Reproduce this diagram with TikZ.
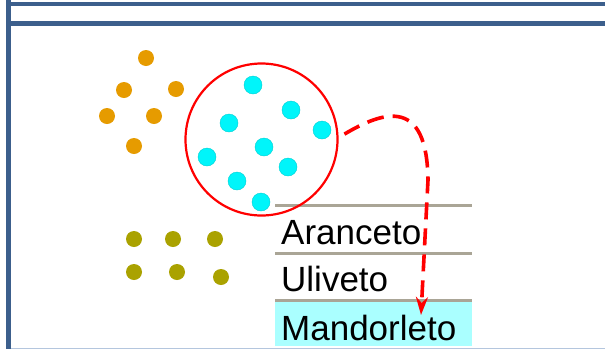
\documentclass[tikz,border=0pt]{standalone}
\usepackage{fontspec}
\setmainfont{Liberation Sans}
\usetikzlibrary{arrows.meta}
\definecolor{framebl}{RGB}{60,95,140}
\definecolor{framelt}{RGB}{180,198,222}
\definecolor{dotor}{RGB}{230,155,0}
\definecolor{dotol}{RGB}{170,162,0}
\definecolor{dotcy}{RGB}{0,245,250}
\definecolor{rulegr}{RGB}{170,165,150}
\definecolor{selcy}{RGB}{170,255,255}
\tikzset{
  ordot/.style={circle,fill=dotor,inner sep=0pt,minimum size=16pt},
  oldot/.style={circle,fill=dotol,inner sep=0pt,minimum size=16pt},
  cydot/.style={circle,fill=dotcy,draw=dotcy!85!black,line width=0.4pt,inner sep=0pt,minimum size=18pt},
  item/.style={anchor=base west,inner sep=0pt,font=\fontsize{35}{37}\selectfont},
  rulegray/.style={draw=rulegr,line width=3pt},
}
\begin{document}
\begin{tikzpicture}[x=1pt,y=-1pt]
\useasboundingbox[fill=white] (0,0) rectangle (605,349);
% frame
\fill[framebl] (6,0) rectangle (11,349);
\fill[framebl] (6,2) rectangle (605,6);
\fill[framebl] (6,21) rectangle (605,26);
\draw[framelt,line width=1.2pt] (11,348.3) -- (605,348.3);
% orange dots
\node[ordot] (o1) at (146,58) {};
\node[ordot] (o2) at (124,90) {};
\node[ordot] (o3) at (176,89) {};
\node[ordot] (o4) at (107,116) {};
\node[ordot] (o5) at (154,116) {};
\node[ordot] (o6) at (134,146) {};
% olive dots
\node[oldot] (g1) at (134,239) {};
\node[oldot] (g2) at (173,239) {};
\node[oldot] (g3) at (215,239) {};
\node[oldot] (g4) at (134,272) {};
\node[oldot] (g5) at (177,272) {};
\node[oldot] (g6) at (221,277) {};
% list
\fill[selcy] (275,302) rectangle (472,346);
\draw[rulegray] (275,205.5) -- (472,205.5);
\draw[rulegray] (275,253) -- (472,253);
\draw[rulegray] (275,300.5) -- (472,300.5);
\node[item] (ara) at (281,244) {Aranceto};
\node[item] (uli) at (281,291) {Uliveto};
\node[item] (man) at (281,340) {Mandorleto};
% cyan dots
\node[cydot] (c1) at (253,85) {};
\node[cydot] (c2) at (291,110) {};
\node[cydot] (c3) at (229,123) {};
\node[cydot] (c4) at (322,130) {};
\node[cydot] (c5) at (264,147) {};
\node[cydot] (c6) at (207,157) {};
\node[cydot] (c7) at (288,167) {};
\node[cydot] (c8) at (237,181) {};
\node[cydot] (c9) at (261,202) {};
% selection circle
\node[circle,draw=red,line width=2.2pt,minimum size=152pt,inner sep=0pt] (circ) at (261.5,139.5) {};
% arrow
\coordinate (tip) at (421,315);
\draw[red,line width=3.6pt,dash pattern=on 17pt off 9pt,-{Stealth[length=18pt,width=12pt]}]
  ([xshift=6pt]circ.4) .. controls (385,110) and (427,98) .. (428,180) -- (tip);
\end{tikzpicture}
\end{document}
